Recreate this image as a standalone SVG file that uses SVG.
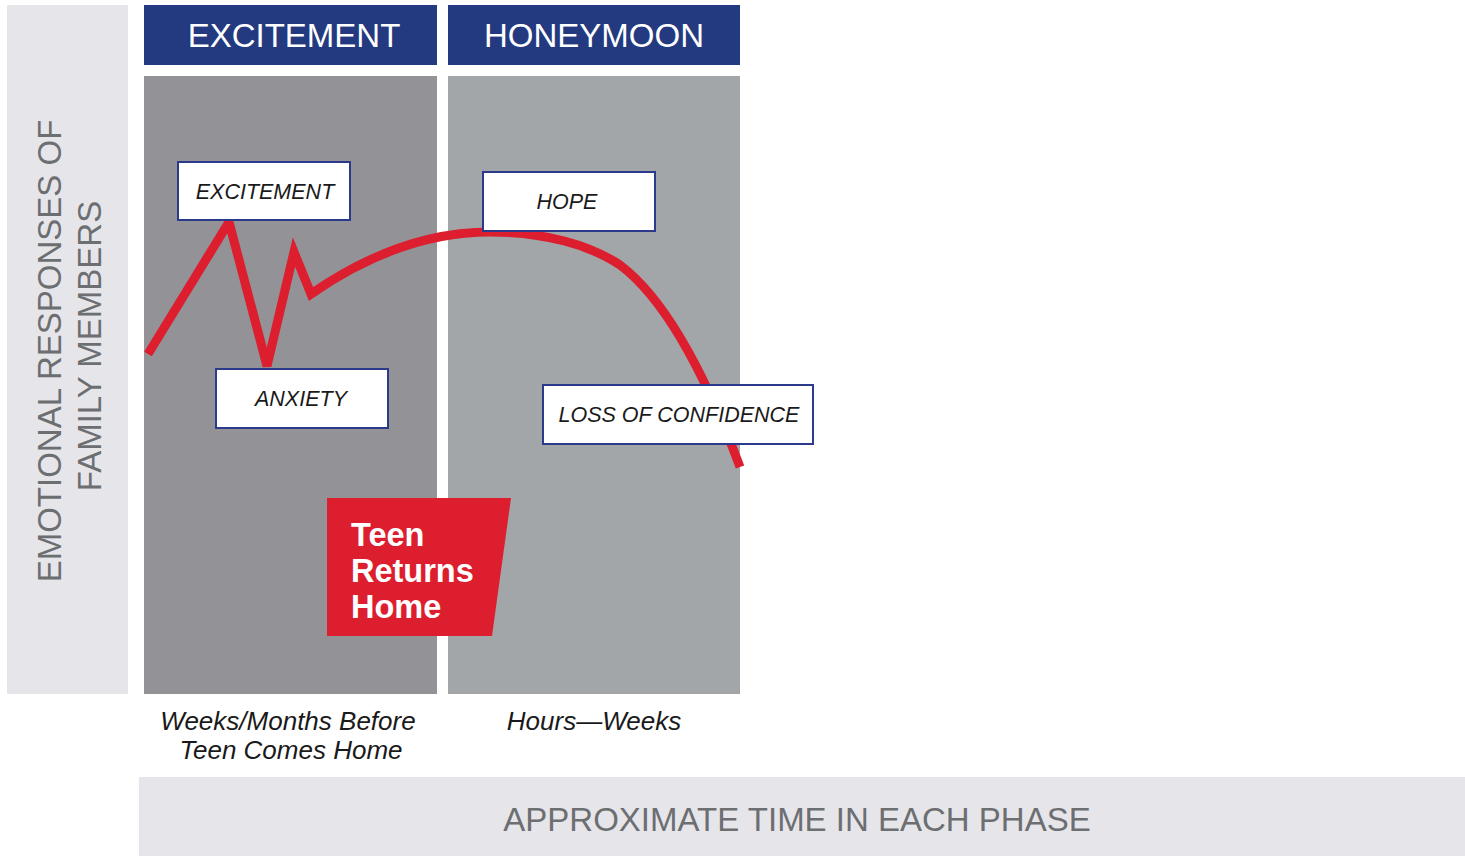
<svg xmlns="http://www.w3.org/2000/svg" width="1465" height="856" viewBox="0 0 1465 856">
<style>
.band{fill:#e6e6ea}
.axis{font-family:"Liberation Sans",Arial,sans-serif;font-size:33px;fill:#6d6e71}
.hdr{fill:#233a80}
.hdrt{font-family:"Liberation Sans",Arial,sans-serif;font-size:33px;fill:#ffffff;text-anchor:middle}
.box{fill:#ffffff;stroke:#2b3a8a;stroke-width:2}
.boxt{font-family:"Liberation Sans",Arial,sans-serif;font-size:21.5px;font-style:italic;fill:#1a1a1a;text-anchor:middle}
.time{font-family:"Liberation Sans",Arial,sans-serif;font-size:26px;font-style:italic;fill:#1a1a1a;text-anchor:middle}
.teen{font-family:"Liberation Sans",Arial,sans-serif;font-size:32.5px;font-weight:bold;fill:#ffffff}
</style>
<rect width="1465" height="856" fill="#ffffff"/>
<g id="y-axis">
<rect class="band" x="7" y="5" width="121" height="689"/>
<text class="axis" transform="translate(61,351) rotate(-90)" text-anchor="middle">EMOTIONAL RESPONSES OF</text>
<text class="axis" transform="translate(101,346) rotate(-90)" text-anchor="middle">FAMILY MEMBERS</text>
</g>
<g id="x-axis">
<rect class="band" x="139" y="777" width="1326" height="79"/>
<text class="axis" x="797" y="831" text-anchor="middle">APPROXIMATE TIME IN EACH PHASE</text>
</g>
<g id="phase-excitement">
<rect class="hdr" x="144" y="5" width="293" height="60"/>
<text class="hdrt" x="294" y="47">EXCITEMENT</text>
<rect x="144" y="76" width="293" height="618" fill="#939297"/>
<text class="time" x="288" y="730">Weeks/Months Before</text>
<text class="time" x="291" y="759">Teen Comes Home</text>
</g>
<g id="phase-honeymoon">
<rect class="hdr" x="448" y="5" width="292" height="60"/>
<text class="hdrt" x="594" y="47">HONEYMOON</text>
<rect x="448" y="76" width="292" height="618" fill="#a3a6a9"/>
<text class="time" x="594" y="730">Hours—Weeks</text>
</g>
<g id="connectors">
<path d="M148,354 L229,222 L267,366 L294,252 L311,294 C360,260 420,232 490,232 C545,232 590,245 620,265 C660,295 700,360 740,467" fill="none" stroke="#dc1e2e" stroke-width="9" stroke-linejoin="miter"/>
</g>
<g id="node-excitement">
<rect class="box" x="178" y="162" width="172" height="58"/>
<text class="boxt" x="265" y="199">EXCITEMENT</text>
</g>
<g id="node-hope">
<rect class="box" x="483" y="172" width="172" height="59"/>
<text class="boxt" x="567" y="209">HOPE</text>
</g>
<g id="node-anxiety">
<rect class="box" x="216" y="369" width="172" height="59"/>
<text class="boxt" x="301" y="406">ANXIETY</text>
</g>
<g id="node-loss">
<rect class="box" x="543" y="385" width="270" height="59"/>
<text class="boxt" x="679" y="422">LOSS OF CONFIDENCE</text>
</g>
<g id="node-teen">
<polygon points="327,498 511,498 492,636 327,636" fill="#dc1e2e"/>
<text class="teen" x="351" y="546">Teen</text>
<text class="teen" x="351" y="582">Returns</text>
<text class="teen" x="351" y="618">Home</text>
</g>
</svg>
